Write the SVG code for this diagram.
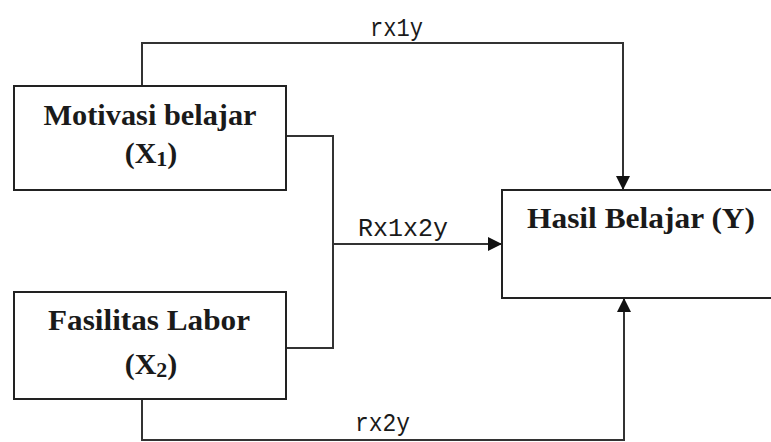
<svg xmlns="http://www.w3.org/2000/svg" width="771" height="442" viewBox="0 0 771 442">
<style>
.box{fill:#fff;stroke:#222;stroke-width:2}
.lbl{font-family:"Liberation Serif","Times New Roman",serif;font-weight:bold;font-size:30px;fill:#1a1a1a}
.cl{font-family:"Liberation Mono","Courier New",monospace;font-size:25px;fill:#1a1a1a}
.ln{fill:none;stroke:#333;stroke-width:2}
</style>
<defs>
<marker id="ah" viewBox="0 0 14 14" refX="14" refY="7" markerWidth="14" markerHeight="14" markerUnits="userSpaceOnUse" orient="auto">
<path d="M0,0 L14,7 L0,14 Z" fill="#111"/>
</marker>
</defs>
<rect width="771" height="442" fill="#fff"/>
<g id="connectors">
<path class="ln" d="M142 86 V43 H623 V190" marker-end="url(#ah)"/>
<path class="ln" d="M286 136 H333 V348 H286"/>
<path class="ln" d="M333 244 H502" marker-end="url(#ah)"/>
<path class="ln" d="M142 399 V440 H624 V298" marker-end="url(#ah)"/>
<text class="cl" x="370" y="36" textLength="53" lengthAdjust="spacingAndGlyphs">rx1y</text>
<text class="cl" x="358" y="236" textLength="90" lengthAdjust="spacingAndGlyphs">Rx1x2y</text>
<text class="cl" x="355" y="431" textLength="55" lengthAdjust="spacingAndGlyphs">rx2y</text>
</g>
<g id="x1">
<rect class="box" x="14" y="86" width="272" height="104"/>
<text class="lbl" x="150" y="125" text-anchor="middle" textLength="213" lengthAdjust="spacingAndGlyphs">Motivasi belajar</text>
<text class="lbl" x="151" y="163" text-anchor="middle">(X<tspan font-size="22" dy="3">1</tspan><tspan dy="-3">)</tspan></text>
</g>
<g id="x2">
<rect class="box" x="14" y="292" width="272" height="107"/>
<text class="lbl" x="149" y="330" text-anchor="middle" textLength="202" lengthAdjust="spacingAndGlyphs">Fasilitas Labor</text>
<text class="lbl" x="151" y="374" text-anchor="middle">(X<tspan font-size="22" dy="3">2</tspan><tspan dy="-3">)</tspan></text>
</g>
<g id="y">
<rect class="box" x="502" y="190" width="285" height="108"/>
<text class="lbl" x="527" y="228" textLength="228" lengthAdjust="spacingAndGlyphs">Hasil Belajar (Y)</text>
</g>
</svg>
